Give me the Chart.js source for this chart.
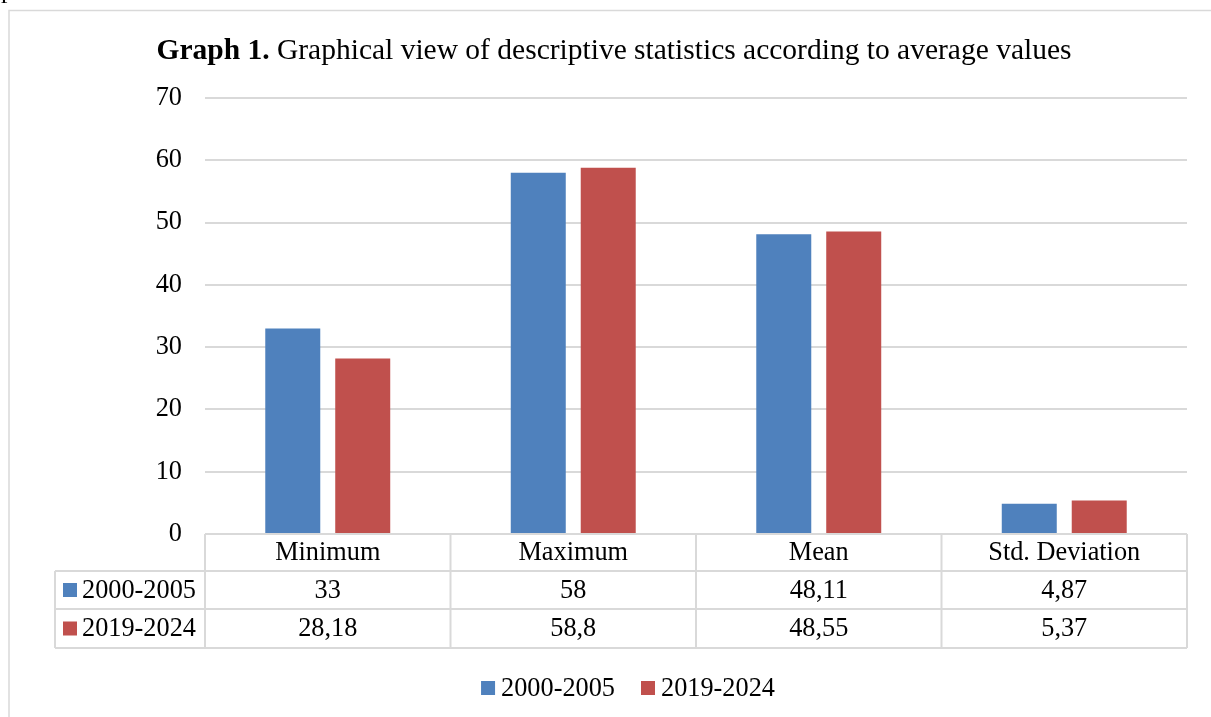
<!DOCTYPE html>
<html><head><meta charset="utf-8">
<script src="https://cdn.jsdelivr.net/npm/chart.js@4.4.1/dist/chart.umd.min.js"></script>
<style>html,body{margin:0;padding:0;background:#fff;overflow:hidden}#wrap{width:1211px;height:717px;position:relative}</style>
</head><body><div id="wrap"><canvas id="c" width="1211" height="717"></canvas></div>
<script>
const categories = ['Minimum', 'Maximum', 'Mean', 'Std. Deviation'];
const seriesNames = ['2000-2005', '2019-2024'];
const values2000 = [33, 58, 48.11, 4.87];
const values2019 = [28.18, 58.8, 48.55, 5.37];
const yMin = 0, yMax = 70, yStep = 10;
const titleBold = 'Graph 1.';
const titleRest = ' Graphical view of descriptive statistics according to average values';

const colors = ['#4F81BD', '#C0504D'];
const FONT = "'Liberation Serif', 'Times New Roman', serif";
const gridColor = '#d9d9d9';
const TXT = 26.3;
const TITLE = 29.5;
const fmt = v => String(v).replace('.', ',');

const extras = {
  id: 'extras',
  beforeDraw(chart) {
    const ctx = chart.ctx;
    ctx.save();
    ctx.fillStyle = '#fff';
    ctx.fillRect(0, 0, chart.width, chart.height);
    // outer frame
    ctx.strokeStyle = '#d9d9d9';
    ctx.lineWidth = 1.5;
    ctx.beginPath();
    ctx.moveTo(9, chart.height);
    ctx.lineTo(9, 10.5);
    ctx.lineTo(chart.width, 10.5);
    ctx.stroke();
    // stray text fragment top-left
    ctx.fillStyle = '#000';
    ctx.font = '26px ' + FONT;
    ctx.textBaseline = 'alphabetic';
    ctx.fillText('p', 1, -2);
    // title
    ctx.font = 'bold ' + TITLE + 'px ' + FONT;
    const wb = ctx.measureText(titleBold).width;
    ctx.font = TITLE + 'px ' + FONT;
    const wr = ctx.measureText(titleRest).width;
    const cx = 614;
    let x = cx - (wb + wr) / 2;
    const ty = 59;
    ctx.font = 'bold ' + TITLE + 'px ' + FONT;
    ctx.textAlign = 'left';
    ctx.fillText(titleBold, x, ty);
    ctx.font = TITLE + 'px ' + FONT;
    ctx.fillText(titleRest, x + wb, ty);
    ctx.restore();
  },
  afterDraw(chart) {
    const ctx = chart.ctx;
    const a = chart.chartArea;
    const xs = chart.scales.x;
    const n = categories.length;
    const cw = (a.right - a.left) / n;
    const top = a.bottom;
    const rowH = [37, 38, 39];
    const y1 = top + rowH[0], y2 = y1 + rowH[1], y3 = y2 + rowH[2];
    const leftCol = 55;
    ctx.save();
    ctx.strokeStyle = gridColor;
    ctx.lineWidth = 2;
    ctx.beginPath();
    ctx.moveTo(a.left, top); ctx.lineTo(a.right, top);
    ctx.moveTo(leftCol, y1); ctx.lineTo(a.right, y1);
    ctx.moveTo(leftCol, y2); ctx.lineTo(a.right, y2);
    ctx.moveTo(leftCol, y3); ctx.lineTo(a.right, y3);
    ctx.moveTo(leftCol, y1); ctx.lineTo(leftCol, y3);
    for (let i = 0; i <= n; i++) {
      const vx = a.left + i * cw;
      ctx.moveTo(vx, top); ctx.lineTo(vx, y3);
    }
    ctx.stroke();
    ctx.fillStyle = '#000';
    ctx.font = TXT + 'px ' + FONT;
    ctx.textAlign = 'center';
    ctx.textBaseline = 'middle';
    const series = [values2000, values2019];
    for (let i = 0; i < n; i++) {
      const px = xs.getPixelForTick(i);
      ctx.fillText(categories[i], px, (top + y1) / 2 + 1);
      ctx.fillText(fmt(series[0][i]), px, (y1 + y2) / 2 + 1);
      ctx.fillText(fmt(series[1][i]), px, (y2 + y3) / 2 + 1);
    }
    ctx.textAlign = 'left';
    const rowsY = [(y1 + y2) / 2, (y2 + y3) / 2];
    for (let s = 0; s < 2; s++) {
      ctx.fillStyle = colors[s];
      ctx.fillRect(63, rowsY[s] - 7, 14, 14);
      ctx.fillStyle = '#000';
      ctx.fillText(seriesNames[s], 82, rowsY[s] + 1);
    }
    // bottom legend
    const ly = 688;
    const sq = 14, gapT = 6, gapI = 26;
    const widths = seriesNames.map(t => ctx.measureText(t).width);
    const total = widths.reduce((p, w) => p + sq + gapT + w, 0) + gapI;
    let lx = 628 - total / 2;
    for (let s = 0; s < 2; s++) {
      ctx.fillStyle = colors[s];
      ctx.fillRect(lx, ly - 7, sq, sq);
      ctx.fillStyle = '#000';
      ctx.fillText(seriesNames[s], lx + sq + gapT, ly + 1);
      lx += sq + gapT + widths[s] + gapI;
    }
    ctx.restore();
  }
};

new Chart(document.getElementById('c'), {
  type: 'bar',
  data: {
    labels: categories,
    datasets: [
      { label: seriesNames[0], data: values2000, backgroundColor: colors[0], categoryPercentage: 0.57, barPercentage: 0.786 },
      { label: seriesNames[1], data: values2019, backgroundColor: colors[1], categoryPercentage: 0.57, barPercentage: 0.786 }
    ]
  },
  options: {
    responsive: false,
    animation: false,
    layout: { padding: { left: 0, right: 24, top: 98, bottom: 183 } },
    plugins: { legend: { display: false }, title: { display: false }, tooltip: { enabled: false } },
    scales: {
      x: {
        grid: { display: false, drawTicks: false },
        border: { display: false },
        ticks: { display: false }
      },
      y: {
        min: yMin, max: yMax,
        afterFit: s => { s.width = 205; },
        grid: { color: gridColor, lineWidth: 2, drawTicks: false },
        border: { display: false },
        ticks: { stepSize: yStep, padding: 23, color: '#000', font: { family: FONT, size: TXT } }
      }
    }
  },
  plugins: [extras]
});
</script></body></html>
